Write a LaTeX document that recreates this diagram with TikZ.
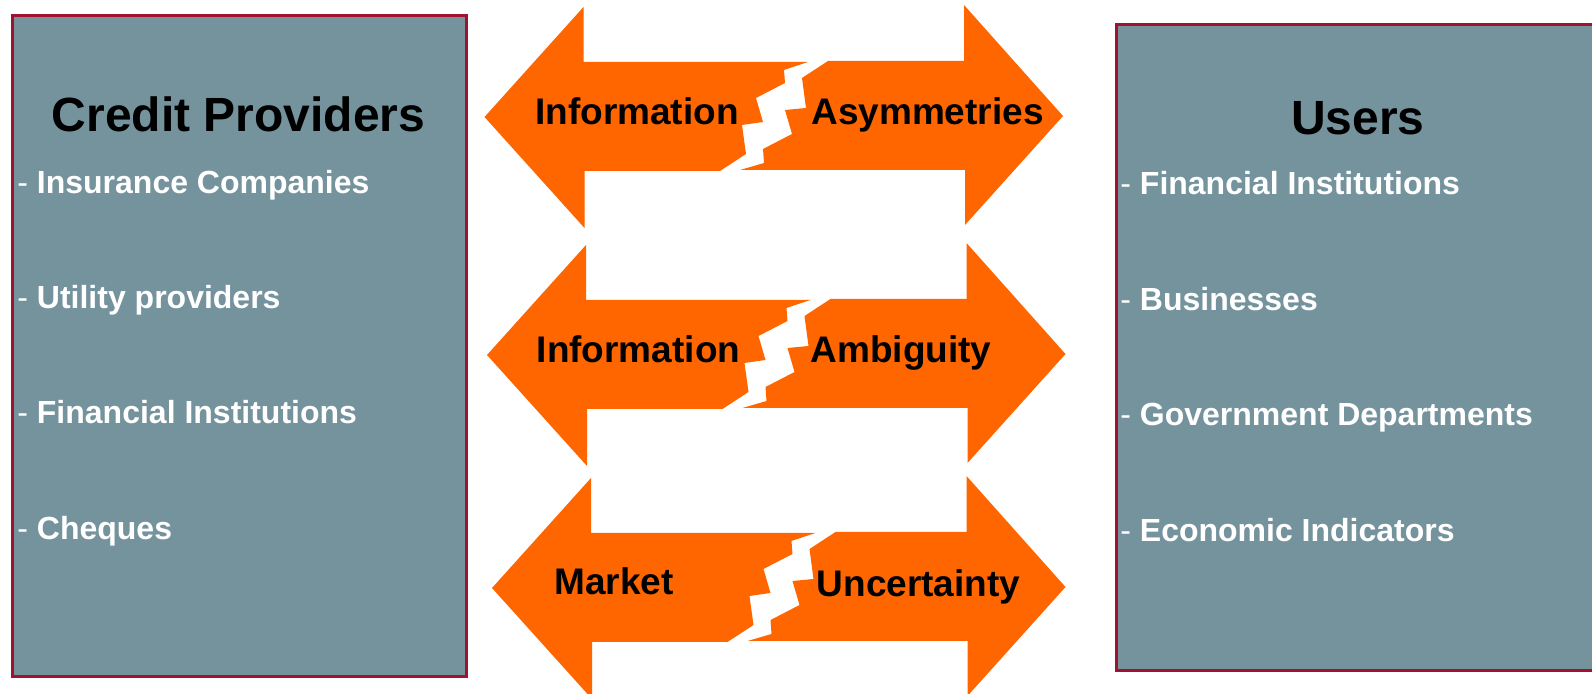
\documentclass[tikz,border=0pt]{standalone}
\usepackage{fontspec}
\setmainfont{Liberation Sans}
\definecolor{panelfill}{RGB}{117,147,157}
\definecolor{panelborder}{RGB}{160,18,45}
\definecolor{arroworange}{RGB}{255,102,0}

% Double-headed arrow broken by a zigzag gap; #1,#2 = left tip, #3 = shift of the right head
\newcommand\splitarrow[3]{%
  \begin{scope}[shift={(#1,#2)}]
    \fill[arrowfill] (0,0) -- (99,-110) -- (99,-55) -- (323.5,-55) -- (299.5,-47)
      -- (300.5,-34) -- (271.5,-19) -- (278.5,5) -- (257.5,8) -- (261.5,37)
      -- (235.5,54) -- (100,54) -- (100,111) -- cycle;
    \fill[arrowfill] (343.5,-56) -- (317.5,-39) -- (321.5,-9) -- (300.5,-7)
      -- (307.5,17) -- (278.5,32) -- (279.5,46) -- (255.5,53)
      -- ({480.5+#3},53) -- ({480.5+#3},108) -- ({578.5+#3},-1)
      -- ({479.5+#3},-112) -- ({479.5+#3},-56) -- cycle;
  \end{scope}}

\begin{document}
\begin{tikzpicture}[x=0.5pt,y=-0.5pt,
  panel/.style={fill=panelfill,draw=panelborder,line width=1.3pt},
  arrowfill/.style={fill=arroworange},
  paneltitle/.style={font=\fontsize{24}{28}\selectfont\bfseries,text=black,anchor=base,inner sep=0pt},
  item/.style={font=\fontsize{16}{19}\selectfont,text=white,anchor=base west,inner sep=0pt},
  arrowlabel/.style={font=\fontsize{18.5}{22}\selectfont\bfseries,text=black,anchor=base,inner sep=0pt}]
  \useasboundingbox (0,0) rectangle (1592,694);

  % side panels
  \draw[panel] (12.5,15.5) rectangle (466.5,676.5);
  \draw[panel] (1116.5,24.5) rectangle (1620,670.5);

  % broken arrows
  \splitarrow{484.5}{117}{0}
  \splitarrow{487}{355}{0}
  \splitarrow{492}{588}{-5}

  % left panel text
  \node[paneltitle] (cpTitle) at (238.5,132) {Credit Providers};
  \node[item] (cp1) at (17,194) {- \textbf{Insurance Companies}};
  \node[item] (cp2) at (17,309) {- \textbf{Utility providers}};
  \node[item] (cp3) at (17,424) {- \textbf{Financial Institutions}};
  \node[item] (cp4) at (17,540) {- \textbf{Cheques}};

  % right panel text
  \node[paneltitle] (usTitle) at (1358,135) {Users};
  \node[item] (us1) at (1120,195) {- \textbf{Financial Institutions}};
  \node[item] (us2) at (1120,310.5) {- \textbf{Businesses}};
  \node[item] (us3) at (1120,426) {- \textbf{Government Departments}};
  \node[item] (us4) at (1120,541.5) {- \textbf{Economic Indicators}};

  % arrow labels
  \node[arrowlabel] (a1l) at (637,125) {Information};
  \node[arrowlabel] (a1r) at (927.5,125) {Asymmetries};
  \node[arrowlabel] (a2l) at (638.5,363) {Information};
  \node[arrowlabel] (a2r) at (901,363) {Ambiguity};
  \node[arrowlabel] (a3l) at (614,595) {Market};
  \node[arrowlabel] (a3r) at (918.5,597) {Uncertainty};
\end{tikzpicture}
\end{document}
